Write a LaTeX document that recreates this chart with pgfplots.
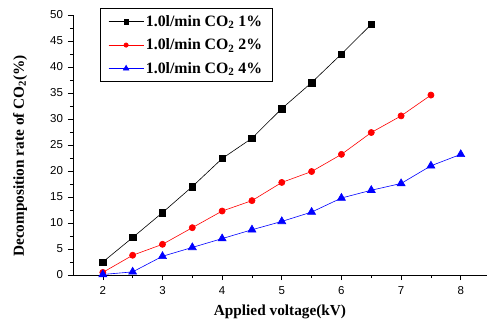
\documentclass[border=0pt]{standalone}
\usepackage{fontspec}
\setmainfont{Liberation Serif}
\newfontfamily\arial{Liberation Sans}
\usepackage{pgfplots}
\pgfplotsset{compat=1.18}
\begin{document}
\begin{tikzpicture}[x=1pt,y=1pt]
\path[use as bounding box] (-73,-49) rectangle (414,275);
\begin{axis}[
  at={(0,0)}, anchor=origin,
  scale only axis, width=414pt, height=260pt,
  xmin=1.5, xmax=8.44, ymin=0, ymax=50,
  axis lines*=left, axis line style={-, line width=0.8pt},
  xtick={2,3,4,5,6,7,8}, ytick={0,5,...,50},
  minor x tick num=1, minor y tick num=1,
  tick align=outside, major tick length=5pt, minor tick length=3pt,
  tick style={black, line width=0.6pt},
  ticklabel style={font=\arial\fontsize{11.5}{13}\selectfont},
  xticklabel style={yshift=-3pt},
  yticklabel style={xshift=-1.5pt},
  /pgf/number format/assume math mode=true,
  xlabel={\bfseries Applied voltage(kV)},
  ylabel={\bfseries Decomposition rate of CO$_\mathbf{2}$(\%)},
  label style={font=\fontsize{15.3}{17}\selectfont},
  xlabel style={at={(axis description cs:0.5,-0.142)}, anchor=center},
  ylabel style={at={(axis description cs:-0.128,0.458)}, anchor=center},
  legend style={at={(axis description cs:0.065,1.027)}, anchor=north west,
    font=\bfseries\fontsize{15.8}{17}\selectfont, draw=black, line width=0.8pt,
    inner xsep=8pt, inner ysep=5pt, row sep=7pt},
  legend cell align=left,
  legend image code/.code={%
    \draw[opacity=0.5] (0pt,0pt) -- (35pt,0pt);
    \draw[mark repeat=2,mark phase=2,mark options={scale=0.7}] plot[draw=none] coordinates {(0pt,0pt) (17.5pt,0pt) (35pt,0pt)};},
]
\addplot[black, line width=0.6pt, mark=square*, mark size=3.2pt, mark options={solid}] coordinates {
(2,2.5) (2.5,7.2) (3,12) (3.5,17) (4,22.4) (4.5,26.3) (5,32) (5.5,37) (6,42.5) (6.5,48.2)};
\addlegendentry{1.0l/min CO$_\mathbf{2}$ 1\%}
\addplot[red, line width=0.6pt, mark=*, mark size=3.1pt] coordinates {
(2,0.5) (2.5,3.8) (3,5.9) (3.5,9.1) (4,12.3) (4.5,14.3) (5,17.8) (5.5,19.9) (6,23.2) (6.5,27.4) (7,30.6) (7.5,34.6)};
\addlegendentry{1.0l/min CO$_\mathbf{2}$ 2\%}
\addplot[blue, line width=0.6pt, mark=triangle*, mark size=4.6pt] coordinates {
(2,0.1) (2.5,0.6) (3,3.6) (3.5,5.3) (4,7.0) (4.5,8.7) (5,10.3) (5.5,12.1) (6,14.8) (6.5,16.3) (7,17.6) (7.5,21) (8,23.2)};
\addlegendentry{1.0l/min CO$_\mathbf{2}$ 4\%}
\end{axis}
\end{tikzpicture}
\end{document}
